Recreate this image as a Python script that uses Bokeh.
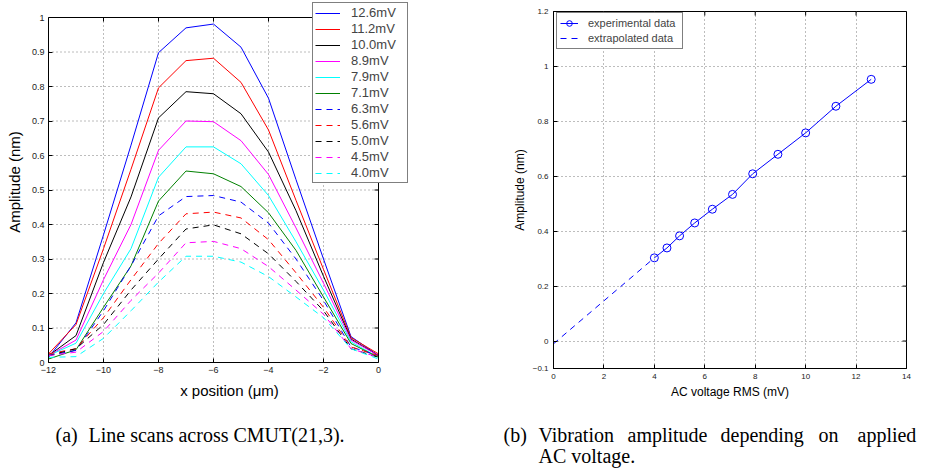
import math
from bokeh.plotting import figure
from bokeh.models import (Legend, LegendItem, Label, FixedTicker, Range1d,
                          CustomJSTickFormatter)
from bokeh.embed import file_html
from bokeh.resources import INLINE

SANS = "Liberation Sans"
SERIF = "Liberation Serif"

# ---------------- data: (a) line scans ----------------
x_pos = [-12, -11, -10, -9, -8, -7, -6, -5, -4, -3, -2, -1, 0]
scan_labels = ["12.6mV", "11.2mV", "10.0mV", "8.9mV", "7.9mV", "7.1mV",
               "6.3mV", "5.6mV", "5.0mV", "4.5mV", "4.0mV"]
amp_12_6 = [0.015, 0.115, 0.37, 0.63, 0.898, 0.970, 0.981, 0.914, 0.766, 0.53, 0.30, 0.075, 0.02]
amp_11_2 = [0.025, 0.110, 0.33, 0.56, 0.796, 0.875, 0.882, 0.812, 0.674, 0.47, 0.27, 0.072, 0.025]
amp_10_0 = [0.020, 0.078, 0.29, 0.48, 0.709, 0.785, 0.779, 0.721, 0.610, 0.44, 0.25, 0.068, 0.020]
amp_8_9 = [0.020, 0.065, 0.24, 0.40, 0.615, 0.700, 0.698, 0.643, 0.545, 0.39, 0.23, 0.065, 0.020]
amp_7_9 = [0.020, 0.056, 0.20, 0.33, 0.537, 0.625, 0.625, 0.576, 0.484, 0.35, 0.21, 0.060, 0.015]
amp_7_1 = [0.010, 0.037, 0.16, 0.28, 0.468, 0.555, 0.547, 0.510, 0.434, 0.325, 0.19, 0.055, 0.015]
amp_6_3 = [0.020, 0.035, 0.15, 0.28, 0.425, 0.481, 0.484, 0.465, 0.404, 0.30, 0.18, 0.045, 0.020]
amp_5_6 = [0.025, 0.040, 0.13, 0.24, 0.345, 0.431, 0.436, 0.419, 0.356, 0.26, 0.16, 0.045, 0.020]
amp_5_0 = [0.020, 0.040, 0.11, 0.21, 0.300, 0.387, 0.399, 0.373, 0.315, 0.235, 0.15, 0.040, 0.015]
amp_4_5 = [0.020, 0.030, 0.09, 0.18, 0.259, 0.347, 0.351, 0.330, 0.278, 0.21, 0.14, 0.040, 0.015]
amp_4_0 = [0.015, 0.017, 0.07, 0.15, 0.233, 0.308, 0.308, 0.291, 0.249, 0.19, 0.13, 0.040, 0.010]
scan_series = [amp_12_6, amp_11_2, amp_10_0, amp_8_9, amp_7_9, amp_7_1,
               amp_6_3, amp_5_6, amp_5_0, amp_4_5, amp_4_0]
scan_colors = ["#0000ff", "#ff0000", "#000000", "#ff00ff", "#00ffff", "#008000",
               "#0000ff", "#ff0000", "#000000", "#ff00ff", "#00ffff"]
scan_dashes = ["solid"] * 6 + ["6 5"] * 5

a_xlim = [-12, 0]
a_ylim = [0, 1]
a_xticks = [-12, -10, -8, -6, -4, -2, 0]
a_yticks = [0, 0.1, 0.2, 0.3, 0.4, 0.5, 0.6, 0.7, 0.8, 0.9, 1]

# ---------------- data: (b) amplitude vs voltage ----------------
volt_rms = [4.0, 4.5, 5.0, 5.6, 6.3, 7.1, 7.9, 8.9, 10.0, 11.2, 12.6]
amp_peak = [0.303, 0.339, 0.383, 0.430, 0.480, 0.534, 0.609, 0.680, 0.758, 0.855, 0.953]
extra_volt = [0.0, 4.0]
extra_amp = [-0.01, 0.303]
b_xlim = [0, 14]
b_ylim = [-0.1, 1.2]
b_xticks = [0, 2, 4, 6, 8, 10, 12, 14]
b_yticks = [-0.1, 0, 0.2, 0.4, 0.6, 0.8, 1, 1.2]

caption_a = ["(a)", "Line scans across CMUT(21,3)."]
caption_b1 = ["(b)", "Vibration", "amplitude", "depending", "on", "applied"]
caption_b2 = "AC voltage."

minus_fmt = CustomJSTickFormatter(code="return String(tick).replace('-', '\u2212');")

W1, W2 = 478, 447
H_PLOT, H_CAP = 405, 64
GRID_COLOR = "#7a7a7a"
GRID_DASH = "1 3"


def style_axes(p, xticks, yticks, tick_size, label_size, x_std, y_std, xl_std, yl_std):
    for ax in (p.xaxis[0], p.yaxis[0]):
        ax.major_tick_in = 4
        ax.major_tick_out = 0
        ax.minor_tick_line_color = None
        ax.axis_line_color = "black"
        ax.major_tick_line_color = "black"
        ax.major_label_text_font = SANS
        ax.major_label_text_font_size = tick_size
        ax.major_label_text_color = "#222222"
        ax.axis_label_text_font = SANS
        ax.axis_label_text_font_size = label_size
        ax.axis_label_text_font_style = "normal"
        ax.axis_label_text_color = "black"
        ax.formatter = minus_fmt
    p.xaxis[0].ticker = FixedTicker(ticks=xticks)
    p.yaxis[0].ticker = FixedTicker(ticks=yticks)
    p.xaxis[0].major_label_standoff = x_std
    p.yaxis[0].major_label_standoff = y_std
    p.xaxis[0].axis_label_standoff = xl_std
    p.yaxis[0].axis_label_standoff = yl_std
    p.background_fill_color = "white"
    p.border_fill_color = "white"


def inner_ticks(p, xticks, yticks, xlim, ylim):
    # inward ticks along the top and right edges of the axes box
    p.ray(x=xticks, y=[ylim[1]] * len(xticks), length=4, length_units="screen",
          angle=-math.pi / 2, line_color="black", line_width=1)
    p.ray(x=[xlim[1]] * len(yticks), y=yticks, length=4, length_units="screen",
          angle=math.pi, line_color="black", line_width=1)


def caption_fig(w):
    c = figure(width=w, height=H_CAP, x_range=Range1d(0, w), y_range=Range1d(0, H_CAP),
               output_backend="svg", toolbar_location=None, min_border=0,
               x_axis_location=None, y_axis_location=None)
    c.grid.visible = False
    c.outline_line_color = None
    c.background_fill_color = "white"
    c.border_fill_color = "white"
    return c


def cap_label(c, x, y, text):
    c.add_layout(Label(x=x, y=y, x_units="screen", y_units="screen", text=text,
                       text_font=SERIF, text_font_size="20px", text_baseline="middle",
                       text_align="left", text_color="black"))


# ---------------- figure (a) ----------------
# the frame is a little larger than the axes box so the legend may overhang it
A_BOX_W, A_BOX_H, A_OVER_R, A_OVER_T = 330, 345, 32, 16
ax_span = a_xlim[1] - a_xlim[0]
ay_span = a_ylim[1] - a_ylim[0]
p1 = figure(width=W1, height=H_PLOT,
            x_range=Range1d(a_xlim[0], a_xlim[1] + ax_span * A_OVER_R / A_BOX_W),
            y_range=Range1d(a_ylim[0], a_ylim[1] + ay_span * A_OVER_T / A_BOX_H),
            output_backend="svg", toolbar_location=None,
            min_border_left=48, min_border_right=W1 - 48 - A_BOX_W - A_OVER_R,
            min_border_top=17 - A_OVER_T,
            min_border_bottom=H_PLOT - 17 - A_BOX_H,
            x_axis_label="x position (\u03bcm)", y_axis_label="Amplitude (nm)")
style_axes(p1, a_xticks, a_yticks, "9px", "15px", 4, 4, 6, 6)
p1.xaxis[0].bounds = (a_xlim[0], a_xlim[1])
p1.yaxis[0].bounds = (a_ylim[0], a_ylim[1])
p1.grid.visible = False
p1.outline_line_color = None

gx = a_xticks[1:-1]
p1.segment(x0=gx, y0=[a_ylim[0]] * len(gx), x1=gx, y1=[a_ylim[1]] * len(gx),
           line_color=GRID_COLOR, line_dash=GRID_DASH, line_width=1)
gy = a_yticks[1:-1]
p1.segment(x0=[a_xlim[0]] * len(gy), y0=gy, x1=[a_xlim[1]] * len(gy), y1=gy,
           line_color=GRID_COLOR, line_dash=GRID_DASH, line_width=1)

items = []
for lab, ys, col, dash in zip(scan_labels, scan_series, scan_colors, scan_dashes):
    r = p1.line(x_pos, ys, line_color=col, line_width=1, line_dash=dash)
    items.append(LegendItem(label=lab, renderers=[r]))

# axes box: top and right edges
p1.line(a_xlim, [a_ylim[1]] * 2, line_color="black", line_width=1)
p1.line([a_xlim[1]] * 2, a_ylim, line_color="black", line_width=1)
inner_ticks(p1, a_xticks, a_yticks, a_xlim, a_ylim)

leg1 = Legend(items=items, location=(264, 179), margin=0, padding=2, spacing=1,
              glyph_width=25, glyph_height=14, label_height=14, label_width=54,
              label_standoff=11,
              label_text_font=SANS, label_text_font_size="13px",
              border_line_color="black", border_line_width=1.5,
              background_fill_color="white", background_fill_alpha=1)
p1.add_layout(leg1)

# ---------------- figure (b) ----------------
p2 = figure(width=W2, height=H_PLOT, x_range=Range1d(*b_xlim), y_range=Range1d(*b_ylim),
            output_backend="svg", toolbar_location=None,
            min_border_left=75, min_border_right=W2 - 75 - 353, min_border_top=11,
            min_border_bottom=H_PLOT - 11 - 357,
            x_axis_label="AC voltage RMS (mV)", y_axis_label="Amplitude (nm)")
style_axes(p2, b_xticks, b_yticks, "8px", "12px", 5, 5, 3, 3)
p2.xgrid.ticker = FixedTicker(ticks=b_xticks)
p2.ygrid.ticker = FixedTicker(ticks=b_yticks)
for g in (p2.xgrid, p2.ygrid):
    g.grid_line_color = GRID_COLOR
    g.grid_line_dash = GRID_DASH
    g.grid_line_width = 1
p2.outline_line_color = "black"
p2.outline_line_width = 1
inner_ticks(p2, b_xticks, b_yticks, b_xlim, b_ylim)

r_ext = p2.line(extra_volt, extra_amp, line_color="#0000ff", line_width=1, line_dash="6 5")
r_line = p2.line(volt_rms, amp_peak, line_color="#0000ff", line_width=1)
r_mark = p2.scatter(volt_rms, amp_peak, marker="circle", size=8, line_color="#0000ff",
                    fill_color=None, line_width=1)

leg2 = Legend(items=[LegendItem(label="experimental data", renderers=[r_line, r_mark]),
                     LegendItem(label="extrapolated data", renderers=[r_ext])],
              location=(3, 319), margin=0, padding=3, spacing=1,
              glyph_width=18, glyph_height=14, label_height=14, label_width=91,
              label_standoff=10,
              label_text_font=SANS, label_text_font_size="11px",
              border_line_color="black", border_line_width=1.5,
              background_fill_color="white", background_fill_alpha=1)
p2.add_layout(leg2)

# ---------------- captions ----------------
c1 = caption_fig(W1)
cap_label(c1, 55, 35, caption_a[0])
cap_label(c1, 88, 35, caption_a[1])

c2 = caption_fig(W2)
for w, cx in zip(caption_b1, [25, 60, 149, 242, 340, 379]):
    cap_label(c2, cx, 35, w)
cap_label(c2, 60, 14, caption_b2)

# independent roots, placed absolutely so their frames are not aligned
for fig, left, top in ((p1, 0, 0), (p2, W1, 0), (c1, 0, H_PLOT), (c2, W1, H_PLOT)):
    fig.styles = {"position": "absolute", "left": f"{left}px", "top": f"{top}px"}

open("out.html", "w").write(file_html([p1, p2, c1, c2], INLINE))
